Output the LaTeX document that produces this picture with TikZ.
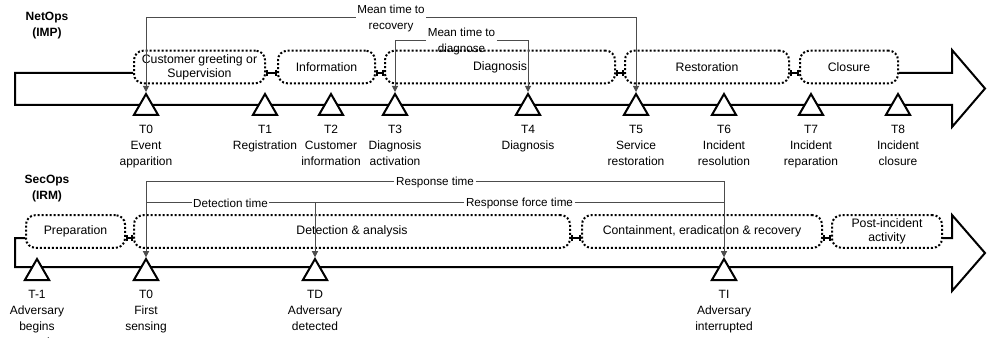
\documentclass[tikz,border=0pt]{standalone}
\usepackage{fontspec}
\setmainfont{Liberation Sans}
\usetikzlibrary{shapes}
\usetikzlibrary{positioning}
\usetikzlibrary{arrows.meta}
\tikzset{
    phase/.style = {rectangle, rounded corners=7pt, line width=1.5pt, draw=black, dash pattern=on 1.5pt off 1.5pt, align=center, font=\fontsize{9.2}{10.5}\selectfont, minimum height=24.5pt, minimum width=#1*0.75pt, inner sep=1pt},
    tmark/.style = {regular polygon, regular polygon sides=3, line width=1.5pt, draw=black, fill=white, minimum size=21pt, inner sep=0},
    tlabel/.style = {align=center, font=\fontsize{9}{12}\selectfont, inner sep=0},
    ophead/.style = {align=center, font=\fontsize{9}{12}\selectfont\bfseries},
    timespan/.style = {-{Triangle[width=4.5pt,length=4.5pt]}, line width=0.75pt, draw=black!70},
    spanlabel/.style = {align=center, font=\fontsize{8.75}{12}\selectfont, inner sep=1pt},
    flow/.style = {line width=1.5pt, line join=miter},
    phaselink/.style = {{Bar[width=5pt]}-{Bar[width=5pt]}, line width=1.5pt} % between phases
}

\begin{document}
\begin{tikzpicture}[x=0.75pt,y=-0.75pt]
\useasboundingbox (0,0) rectangle (987,338);

% NetOps
\node[ophead] at (47,25.5) (net) {NetOps\\(IMP)};
\node[phase=131] at (199.5,67) (cust) {Customer greeting or\\Supervision};
\node[phase=97] at (326.5,67) (info) {Information};
\node[phase=230] at (500,67) (diag) {Diagnosis};
\node[phase=164] at (707,67) (rest) {Restoration};
\node[phase=98] at (849,67) (clos) {Closure};

\draw[flow] (cust.west |- 0,73) -- (15,73) -- (15,105) -- (952,105) -- (952,127) -- (985,88.5) -- (952,50) -- (952,73) -- (clos.east |- 0,73);
\draw[phaselink] (cust.east |- 0,73) -- (info.west |- 0,73);
\draw[phaselink] (info.east |- 0,73) -- (diag.west |- 0,73);
\draw[phaselink] (diag.east |- 0,73) -- (rest.west |- 0,73);
\draw[phaselink] (rest.east |- 0,73) -- (clos.west |- 0,73);

\node[tmark] at (146,108) (t0) {};
\node[tmark] at (265,108) (t1) {};
\node[tmark] at (331,108) (t2) {};
\node[tmark] at (395,108) (t3) {};
\node[tmark] at (528,108) (t4) {};
\node[tmark] at (636,108) (t5) {};
\node[tmark] at (724,108) (t6) {};
\node[tmark] at (811,108) (t7) {};
\node[tmark] at (898,108) (t8) {};

\node[tlabel, below=7pt of t0] (l0) {T0\\Event\\apparition};
\node[tlabel, below=7pt of t1] (l1) {T1\\Registration};
\node[tlabel, below=7pt of t2] (l2) {T2\\Customer\\information};
\node[tlabel, below=7pt of t3] (l3) {T3\\Diagnosis\\activation};
\node[tlabel, below=7pt of t4] (l4) {T4\\Diagnosis};
\node[tlabel, below=7pt of t5] (l5) {T5\\Service\\restoration};
\node[tlabel, below=7pt of t6] (l6) {T6\\Incident\\resolution};
\node[tlabel, below=7pt of t7] (l7) {T7\\Incident\\reparation};
\node[tlabel, below=7pt of t8] (l8) {T8\\Incident\\closure};

\node[spanlabel] at (391,18) (mttr) {Mean time to\\recovery};
\draw[timespan] (mttr) -| (t0.corner 1);
\draw[timespan] (mttr) -| (t5.corner 1);
\node[spanlabel] at (461.5,41) (mttd) {Mean time to\\diagnose};
\draw[timespan] (mttd) -| (t3.corner 1);
\draw[timespan] (mttd) -| (t4.corner 1);

% SecOps
\node[ophead] at (47,189) (sec) {SecOps\\(IRM)};
\node[phase=99] at (75.5,231.5) (prep) {Preparation};
\node[phase=436] at (352,231.5) (dect) {Detection \& analysis};
\node[phase=240] at (702,231.5) (cont) {Containment, eradication \& recovery};
\node[phase=110] at (887,231.5) (post) {Post-incident\\activity};

\draw[flow] (prep.west |- 0,238) -- (15,238) -- (15,267) -- (952,267) -- (952,291) -- (985,253) -- (952,215) -- (952,238) -- (post.east |- 0,238);
\draw[phaselink] (prep.east |- 0,238) -- (dect.west |- 0,238);
\draw[phaselink] (dect.east |- 0,238) -- (cont.west |- 0,238);
\draw[phaselink] (cont.east |- 0,238) -- (post.west |- 0,238);

\node[tmark] at (37,273) (sp) {};
\node[tmark] at (146,273) (s0) {};
\node[tmark] at (315,273) (sd) {};
\node[tmark] at (724,273) (si) {};

\node[tlabel, below=7pt of sp] (lp) {T-1\\Adversary\\begins\\attack};
\node[tlabel, below=7pt of s0] (ls0) {T0\\First\\sensing};
\node[tlabel, below=7pt of sd] (ld) {TD\\Adversary\\detected};
\node[tlabel, below=7pt of si] (li) {TI\\Adversary\\interrupted};

\node[spanlabel] at (435,182) (rt) {Response time};
\draw[timespan] (rt) -| (s0.corner 1);
\draw[timespan] (rt) -| (si.corner 1);
\node[spanlabel] at (230.5,203) (dt) {Detection time};
\draw[timespan] (dt) -| (s0.corner 1);
\draw[timespan] (dt) -| (sd.corner 1);
\node[spanlabel] at (519.5,203) (rft) {Response force time};
\draw[timespan] (rft) -| (sd.corner 1);
\draw[timespan] (rft) -| (si.corner 1);

\end{tikzpicture}
\end{document}
